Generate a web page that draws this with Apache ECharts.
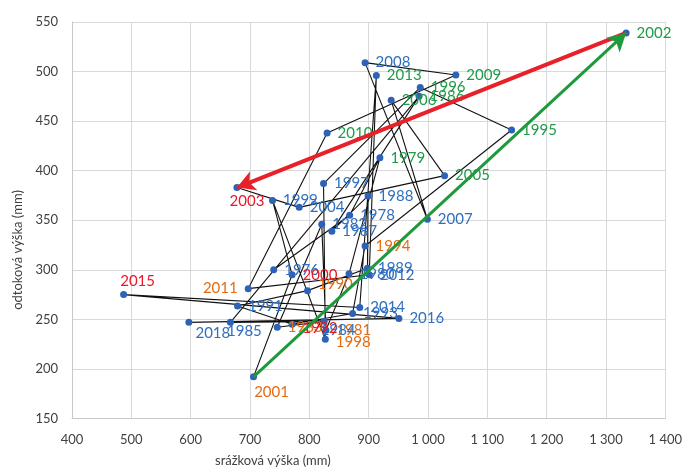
<!DOCTYPE html>
<html><head><meta charset="utf-8">
<script src="https://cdn.jsdelivr.net/npm/echarts@6/dist/echarts.min.js"></script>
<style>html,body{margin:0;padding:0;background:#fff}#c{width:685px;height:471px}</style>
</head><body><div id="c"></div>
<script>
// Chronological data: year, precipitation (srážková výška, mm), runoff (odtoková výška, mm)
const years  = [1976,1978,1979,1980,1981,1982,1983,1984,1985,1986,1987,1988,1989,1990,1991,1992,1993,1994,1995,1996,1997,1998,1999,2000,2001,2002,2003,2004,2005,2006,2007,2008,2009,2010,2011,2012,2013,2014,2015,2016,2018];
const precip = [740,868,919,867,828,821,746,825,667,985,838,899,898,797,679,771,873,894,1141,987,824,827,738,771,706,1334,678,783,1028,938,999,894,1047,830,697,901,913,885,487,951,597];
const runoff = [300,355,413,296,239,346,242,248,247,475,339,374.5,301.5,279,263.5,245,256,324,441,484,387,230,370,295,192,539,383,363,395,471,351,509,496.5,438,281,295,496,262,275,251,247];
const yearClass = ['n','n','w','n','d','n','d','n','n','w','n','n','n','d','n','x','n','d','w','w','n','d','n','x','d','w','x','n','w','w','n','n','w','w','d','n','w','n','x','n','n'];
const xTicks = [400,500,600,700,800,900,1000,1100,1200,1300,1400];
const yTicks = [150,200,250,300,350,400,450,500,550];

const classColor = {n:'#2e6fc0', w:'#1f9b48', d:'#e36c12', x:'#e8182b'};
const labelPlace = {
  2003:{position:'bottom', distance:3, offset:[10,0]},
  2015:{position:'top', distance:2, offset:[14,0]},
  2011:{position:'left'},
  2001:{position:'bottom', distance:4, offset:[18,0]},
  2018:{position:'bottom', distance:0, offset:[24,0]},
  1985:{position:'bottom', distance:-2, offset:[14,0]},
  1984:{position:'bottom', distance:-2, offset:[14,0]},
  1998:{position:'right', offset:[0,3]},
  1990:{position:'right', offset:[0,-6]},
  1992:{position:'right', offset:[0,4]}
};

const pts = years.map((y,i)=>{
  const p = labelPlace[y] || {position:'right'};
  return {
    value:[precip[i], runoff[i]],
    label:Object.assign({show:true, formatter:String(y), color:classColor[yearClass[i]], distance:7}, p)
  };
});
const idx = y => years.indexOf(y);
const c = i => [precip[i], runoff[i]];

const fmt = v => String(v).replace(/\B(?=(\d{3})+(?!\d))/g,' ');

const chart = echarts.init(document.getElementById('c'));
chart.setOption({
  animation:false,
  backgroundColor:'#ffffff',
  grid:{left:72, right:18, top:22, bottom:52.5},
  xAxis:{type:'value', min:xTicks[0], max:xTicks[xTicks.length-1], interval:100,
    axisLine:{show:true, lineStyle:{color:'#c8c8c8'}}, axisTick:{show:false},
    splitLine:{show:true, lineStyle:{color:'#d9d9d9'}},
    axisLabel:{formatter:fmt, color:'#404040', fontSize:13, fontFamily:'Lato', margin:15}},
  yAxis:{type:'value', min:yTicks[0], max:yTicks[yTicks.length-1], interval:50,
    axisLine:{show:true, lineStyle:{color:'#c8c8c8'}}, axisTick:{show:false},
    splitLine:{show:true, lineStyle:{color:'#d9d9d9'}},
    axisLabel:{color:'#404040', fontSize:13, fontFamily:'Lato', margin:14}},
  graphic:[
    {type:'text', left:215, top:454, style:{text:'srážková výška (mm)', fill:'#404040', font:'13px Lato'}},
    {type:'text', x:18, y:250, rotation:Math.PI/2, style:{text:'odtoková výška (mm)', fill:'#404040', font:'13px Lato', textAlign:'center', textVerticalAlign:'middle'}}
  ],
  series:[
    {type:'line', data:pts, z:3,
     lineStyle:{color:'#111111', width:1.1},
     symbol:'circle', symbolSize:7,
     itemStyle:{color:'#2e62b6'},
     label:{fontFamily:'Lato', fontSize:15}
    },
    {type:'line', data:[], z:5,
     markLine:{silent:true, animation:false, symbol:['none','arrow'], symbolSize:[15,18],
       label:{show:false},
       data:[
         [{coord:c(idx(2002)), lineStyle:{color:'#e8202a', width:4, type:'solid'}}, {coord:c(idx(2003))}],
         [{coord:c(idx(2001)), lineStyle:{color:'#1e9a3c', width:3, type:'solid'}}, {coord:c(idx(2002))}]
       ]}
    }
  ]
});
</script></body></html>
